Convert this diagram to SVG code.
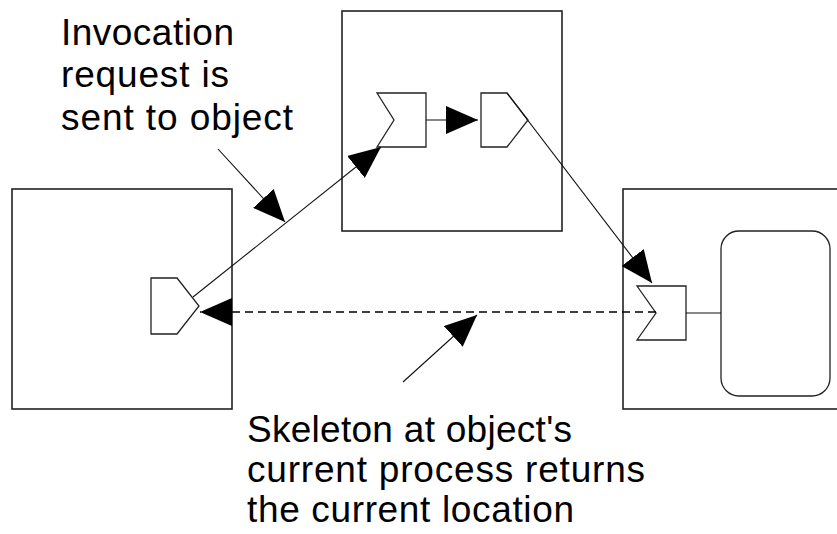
<svg xmlns="http://www.w3.org/2000/svg" width="837" height="534" viewBox="0 0 837 534">
<style>
.box{fill:#fff;stroke:#222;stroke-width:1.6}
.port{fill:#fff;stroke:#222;stroke-width:1.3}
.ln{fill:none;stroke:#111;stroke-width:1.1}
.dash{stroke:#000;stroke-width:1.3;stroke-dasharray:8 5}
.lbl{font-family:"Liberation Sans",Arial,sans-serif;font-size:37px;fill:#000}
</style>
<defs>
<marker id="ah" markerUnits="userSpaceOnUse" viewBox="0 0 32 28" refX="32" refY="14" markerWidth="32" markerHeight="28" orient="auto">
<path d="M0,0 L32,14 L0,28 Z" fill="#000"/>
</marker>
</defs>
<rect width="837" height="534" fill="#fff"/>
<g id="left-process">
<rect class="box" x="12" y="189" width="220" height="220"/>
<path id="left-port" class="port" d="M151,278 L177,278 L199,306 L177,334 L151,334 Z"/>
</g>
<g id="middle-process">
<rect class="box" x="342" y="11" width="220" height="220"/>
<path id="mid-in-port" class="port" d="M377,93 L426,93 L426,147 L377,147 L394,120 Z"/>
<path id="mid-out-port" class="port" d="M481,93 L507,93 L528,120 L507,147 L481,147 Z"/>
</g>
<g id="right-process">
<rect class="box" x="623" y="189" width="240" height="220"/>
<path id="right-port" class="port" d="M637,286 L686,286 L686,340 L637,340 L656,313 Z"/>
<rect id="object" class="port" x="721" y="231" width="109" height="165" rx="18" ry="18"/>
</g>
<g id="connectors">
<line class="ln" x1="193" y1="297" x2="381" y2="147" marker-end="url(#ah)"/>
<line class="ln" x1="426" y1="120" x2="478" y2="120" marker-end="url(#ah)"/>
<line class="ln" x1="507" y1="93" x2="652" y2="283" marker-end="url(#ah)"/>
<line class="ln dash" x1="656" y1="312" x2="200" y2="312" marker-end="url(#ah)"/>
<line class="ln" x1="686" y1="313" x2="721" y2="313"/>
<line class="ln" x1="218" y1="149" x2="285" y2="222" marker-end="url(#ah)"/>
<line class="ln" x1="403" y1="382" x2="477" y2="315" marker-end="url(#ah)"/>
</g>
<g id="label-top">
<text class="lbl" x="61" y="45" textLength="173">Invocation</text>
<text class="lbl" x="61" y="87" textLength="168">request is</text>
<text class="lbl" x="61" y="130" textLength="232">sent to object</text>
</g>
<g id="label-bottom">
<text class="lbl" x="247" y="442" textLength="325">Skeleton at object's</text>
<text class="lbl" x="247" y="482" textLength="398">current process returns</text>
<text class="lbl" x="247" y="522" textLength="327">the current location</text>
</g>
</svg>
